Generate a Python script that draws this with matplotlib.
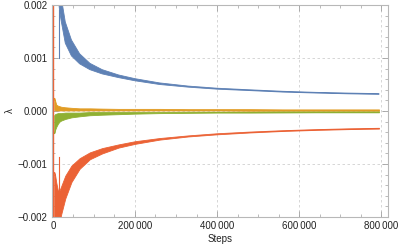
import matplotlib.pyplot as plt
from matplotlib.ticker import MultipleLocator, FuncFormatter

plt.rcParams['font.family'] = ['Liberation Sans', 'DejaVu Sans']

steps = [3000, 5000, 8000, 12000, 16000, 20000, 30000, 45000, 65000, 90000,
         120000, 160000, 200000, 260000, 330000, 400000, 480000, 560000,
         640000, 720000, 795000]

blue_hi = [0.0052, 0.0042, 0.0034, 0.0028, 0.0024, 0.00215, 0.00168, 0.00134,
           0.00108, 0.00090, 0.00078, 0.00068, 0.00061, 0.00053, 0.00047,
           0.000430, 0.000400, 0.000372, 0.000352, 0.000338, 0.000328]
blue_lo = [0.0046, 0.0036, 0.0028, 0.0022, 0.0019, 0.00170, 0.00128, 0.00104,
           0.00089, 0.00078, 0.00070, 0.00063, 0.00057, 0.00050, 0.00045,
           0.000412, 0.000385, 0.000357, 0.000339, 0.000324, 0.000314]

red_hi = [-0.00115, -0.0012, -0.00135, -0.0015, -0.0015, -0.00142, -0.00122,
          -0.00103, -0.00089, -0.00078, -0.00070, -0.00063, -0.00057,
          -0.00051, -0.00046, -0.000420, -0.000388, -0.000362, -0.000342,
          -0.000327, -0.000317]
red_lo = [-0.0030, -0.0032, -0.0030, -0.0026, -0.0021, -0.00195, -0.00165,
          -0.00134, -0.00109, -0.00091, -0.00080, -0.00069, -0.00062,
          -0.00054, -0.00048, -0.000440, -0.000405, -0.000377, -0.000357,
          -0.000342, -0.000332]

orange_hi = [0.00025, 0.00020, 0.00012, 0.00010, 0.00009, 0.00008, 0.00007,
             0.00006, 0.00005, 0.00005, 0.000045, 0.00004, 0.00004, 0.00004,
             0.000035, 0.000035, 0.000035, 0.00003, 0.00003, 0.00003, 0.00003]
orange_lo = [0.00002, 0.00001, 0.00001, 0.00001, 0.00001, 0.00001, 0.00001,
             0.00001, 0.00001, 0.00001, 0.00001, 0.00001, 0.00001, 0.00001,
             0.00001, 0.00001, 0.000005, 0.000005, 0.000005, 0.000005, 0.000005]

green_hi = [-0.00008, -0.00006, -0.00005, -0.00004, -0.00004, -0.00004,
            -0.00003, -0.00003, -0.00003, -0.00002, -0.00002, -0.00002,
            -0.00002, -0.00002, -0.000015, -0.000015, -0.000015, -0.00001,
            -0.00001, -0.00001, -0.00001]
green_lo = [-0.00042, -0.00036, -0.00030, -0.00024, -0.00020, -0.00018,
            -0.00015, -0.00012, -0.00010, -0.00008, -0.00007, -0.00006,
            -0.00005, -0.00004, -0.000035, -0.00003, -0.00003, -0.000028,
            -0.000025, -0.000025, -0.000025]

# the red series starts with a huge jump at step 0, plus short spikes near 15k
red_start_steps = [0, 0]
red_start_vals = [0.003, -0.003]
spike_step = [15000, 15000]
blue_spike = [0.0019, 0.00100]
red_spike = [-0.0017, -0.00087]

c_blue = '#5E81B5'
c_orange = '#E19C24'
c_green = '#8FB032'
c_red = '#EB6235'

fig = plt.figure(figsize=(3.99, 2.44), dpi=100)
ax = fig.add_axes([52 / 399, 1 - 217 / 244, 336 / 399, 212 / 244])

ax.fill_between(steps, blue_lo, blue_hi, color=c_blue, lw=0.6, ec=c_blue)
ax.plot(spike_step, blue_spike, color=c_blue, lw=0.8)
ax.fill_between(steps, orange_lo, orange_hi, color=c_orange, lw=0.6, ec=c_orange)
ax.fill_between(steps, green_lo, green_hi, color=c_green, lw=0.6, ec=c_green)
ax.fill_between(steps, red_lo, red_hi, color=c_red, lw=0.6, ec=c_red)
ax.plot(spike_step, red_spike, color=c_red, lw=0.8)
ax.plot(red_start_steps, red_start_vals, color=c_red, lw=1.0)

ax.set_xlim(-2400, 817000)
ax.set_ylim(-0.002, 0.002)

ax.xaxis.set_major_locator(MultipleLocator(200000))
ax.xaxis.set_minor_locator(MultipleLocator(50000))
ax.yaxis.set_major_locator(MultipleLocator(0.001))
ax.yaxis.set_minor_locator(MultipleLocator(0.0002))
ax.xaxis.set_major_formatter(FuncFormatter(
    lambda v, p: '{:,}'.format(int(round(v))).replace(',', '\u2009')))
ax.yaxis.set_major_formatter(FuncFormatter(
    lambda v, p: '{:.3f}'.format(v).replace('-', '\u2212') if abs(v) > 1e-9 else '0.000'))

ax.grid(True, which='major', color='#d0d0d0', ls=(0, (3, 3)), lw=0.6)
ax.set_axisbelow(True)
for s in ax.spines.values():
    s.set_color('#b8b8b8')
    s.set_linewidth(0.8)
ax.tick_params(which='both', direction='in', top=True, right=True,
               color='#a0a0a0', labelsize=7, labelcolor='#222222', pad=3)
ax.tick_params(which='major', length=4, width=0.6)
ax.tick_params(which='minor', length=2, width=0.5)

ax.set_xlabel('Steps', fontsize=7, color='#222222', labelpad=2)
ax.set_ylabel('λ', fontsize=7, color='#222222', labelpad=2)

fig.savefig('out.png', dpi=100)
